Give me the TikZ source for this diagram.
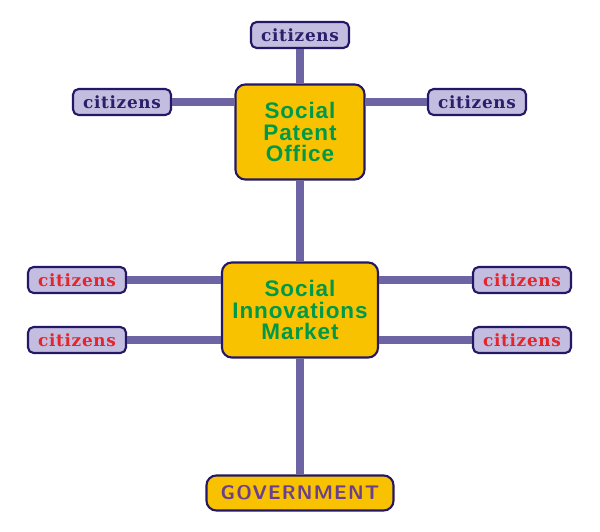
\documentclass[tikz,border=0pt]{standalone}
\usepackage{fontspec}
\usepackage{xcolor}
\usepackage{tikz}
\usetikzlibrary{positioning}
\newfontfamily\citfont[LetterSpace=4]{DejaVu Serif}
\newfontfamily\hubfont[LetterSpace=4]{Liberation Sans}
\newfontfamily\govfont[LetterSpace=6]{Latin Modern Sans}
\definecolor{boxline}{HTML}{221866}
\definecolor{citfill}{HTML}{C3BDE0}
\definecolor{citblue}{HTML}{2B1F6A}
\definecolor{citred}{HTML}{E5252C}
\definecolor{hubfill}{HTML}{F8C200}
\definecolor{hubtext}{HTML}{00994A}
\definecolor{govtext}{HTML}{6A3F8F}
\definecolor{linkcol}{HTML}{6D64A4}
\tikzstyle{citbox}=[rectangle,rounded corners=4pt,draw=boxline,line width=1.5pt,fill=citfill,minimum width=2.45cm,minimum height=0.65cm,inner sep=0pt,font=\citfont\bfseries\fontsize{12}{14}\selectfont]
\tikzstyle{hub}=[rectangle,rounded corners=7pt,draw=boxline,line width=1.5pt,fill=hubfill,minimum height=2.375cm,inner sep=0pt,align=center,text=hubtext,font=\hubfont\bfseries\fontsize{16}{15.6}\selectfont]
\tikzstyle{govbox}=[rectangle,rounded corners=7pt,draw=boxline,line width=1.5pt,fill=hubfill,minimum width=4.675cm,minimum height=0.875cm,inner sep=0pt,text=govtext,font=\govfont\bfseries\fontsize{14}{16}\selectfont]
\tikzstyle{link}=[draw,line width=5pt,linkcol]

\begin{document}
\begin{tikzpicture}[x=0.025cm,y=-0.025cm]

 \useasboundingbox (0,0) rectangle (600,532);

 %hubs
 \node[hub,minimum width=3.225cm] (spo) at (300,132) {Social\\Patent\\Office};
 \node[hub,minimum width=3.9cm] (sim) at (300,310) {Social\\Innovations\\Market};
 \node[govbox] (gov) at (300,493) {GOVERNMENT};

 %citizens
 \foreach \x/\y/\name/\col in {300/35/ct/citblue, 122/102/cl/citblue, 477/102/cr/citblue,
                                77/280/ml1/citred, 77/340/ml2/citred, 522/280/mr1/citred, 522/340/mr2/citred}
        \node[citbox,text=\col] (\name) at (\x,\y) {citizens};

 %links
 \foreach \source/\dest in {ct/spo, spo/sim, sim/gov}
        \path[link] (\source) -- (\dest);

 \foreach \source/\dest/\side in {cl/spo/west, cr/spo/east, ml1/sim/west, ml2/sim/west, mr1/sim/east, mr2/sim/east}
        \path[link] (\source) -- (\source -| \dest.\side);

\end{tikzpicture}
\end{document}
